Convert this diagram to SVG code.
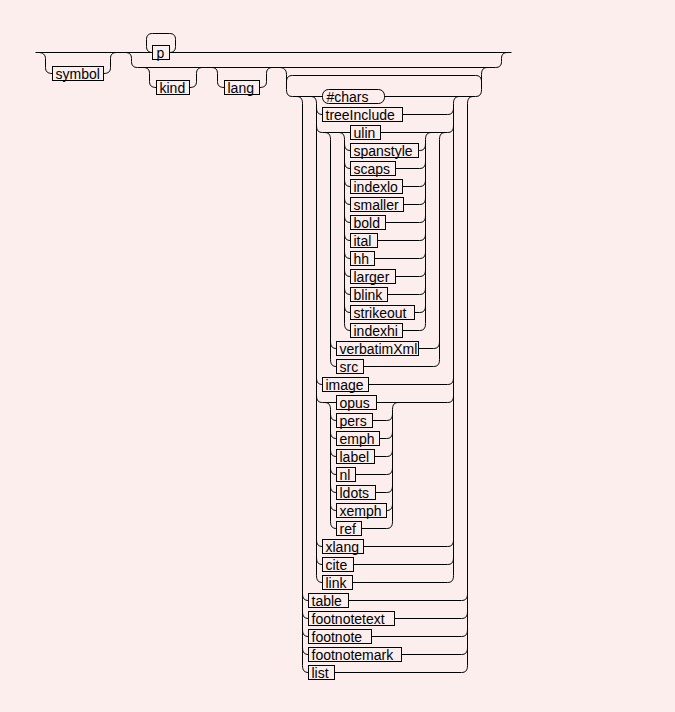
<svg xmlns="http://www.w3.org/2000/svg" width="675" height="712" viewBox="0 0 675 712">
<style>
.c{fill:none;stroke:#000;stroke-width:1}
.b{fill:#fdeeee;stroke:#000;stroke-width:1}
.t{font-family:"Liberation Sans",Arial,sans-serif;font-size:14px;fill:#000}
</style>
<rect x="0" y="0" width="675" height="712" fill="#fdeeee"/>
<g transform="translate(0.5,0.5)">
<g id="connectors" class="c">
<path d="M35,52 H511"/>
<path d="M38,52 C42,52 45,54 45,58 V67 C45,71 47,73 52,73"/>
<path d="M103,73 C108,73 110,71 110,67 V58 C110,54 112,52 116,52"/>
<path d="M169,52 C173,52 175,50 175,46 V39 C175,35 173,33 169,33 H152 C148,33 146,35 146,39 V46 C146,50 148,52 152,52"/>
<path d="M125,52 C129,52 131,54 131,58 V61 C131,65 133,67 137,67 H495 C499,67 501,65 501,61 V58 C501,54 503,52 507,52"/>
<path d="M143,67 C147,67 149,69 149,73 V81 C149,85 151,87 156,87"/>
<path d="M189,87 C194,87 196,85 196,81 V73 C196,69 198,67 202,67"/>
<path d="M211,67 C215,67 217,69 217,73 V81 C217,85 219,87 224,87"/>
<path d="M259,87 C264,87 266,85 266,81 V73 C266,69 268,67 272,67"/>
<path d="M279,67 C283,67 286,69 286,74 V89 C286,94 288,96 292,96"/>
<path d="M292,75 C288,75 286,77 286,81"/>
<path d="M292,75 H475"/>
<path d="M475,75 C479,75 481,77 481,81"/>
<path d="M475,96 C479,96 481,94 481,89 V74 C481,69 483,67 487,67"/>
<path d="M292,96 H475"/>
<path d="M322,114 H447 M322,132 H447 M322,384 H447 M322,402 H447 M322,546 H447 M322,564 H447 M322,582 H447"/>
<path d="M350,150 H419 M350,168 H419 M350,186 H419 M350,204 H419 M350,222 H419 M350,240 H419 M350,258 H419 M350,276 H419 M350,294 H419 M350,312 H419 M350,330 H419"/>
<path d="M336,348 H433 M336,366 H433"/>
<path d="M336,420 H386 M336,438 H386 M336,456 H386 M336,474 H386 M336,492 H386 M336,510 H386 M336,528 H386"/>
<path d="M308,600 H461 M308,618 H461 M308,636 H461 M308,654 H461 M308,672 H461"/>
<path d="M296,96 C300,96 302,98 302,103 V665"/>
<path d="M302,593 C302,598 304,600 308,600 M302,611 C302,616 304,618 308,618 M302,629 C302,634 304,636 308,636 M302,647 C302,652 304,654 308,654 M302,665 C302,670 304,672 308,672"/>
<path d="M473,96 C469,96 467,98 467,103 V665"/>
<path d="M461,600 C465,600 467,598 467,593 M461,618 C465,618 467,616 467,611 M461,636 C465,636 467,634 467,629 M461,654 C465,654 467,652 467,647 M461,672 C465,672 467,670 467,665"/>
<path d="M310,96 C314,96 316,98 316,103 V575"/>
<path d="M316,107 C316,112 318,114 322,114 M316,125 C316,130 318,132 322,132 M316,377 C316,382 318,384 322,384 M316,395 C316,400 318,402 322,402 M316,539 C316,544 318,546 322,546 M316,557 C316,562 318,564 322,564 M316,575 C316,580 318,582 322,582"/>
<path d="M459,96 C455,96 453,98 453,103 V575"/>
<path d="M447,114 C451,114 453,112 453,107 M447,132 C451,132 453,130 453,125 M447,384 C451,384 453,382 453,377 M447,402 C451,402 453,400 453,395 M447,546 C451,546 453,544 453,539 M447,564 C451,564 453,562 453,557 M447,582 C451,582 453,580 453,575"/>
<path d="M324,132 C328,132 330,134 330,139 V359"/>
<path d="M330,341 C330,346 332,348 336,348 M330,359 C330,364 332,366 336,366"/>
<path d="M445,132 C441,132 439,134 439,139 V359"/>
<path d="M433,348 C437,348 439,346 439,341 M433,366 C437,366 439,364 439,359"/>
<path d="M338,132 C342,132 344,134 344,139 V323"/>
<path d="M344,143 C344,148 346,150 350,150 M344,161 C344,166 346,168 350,168 M344,179 C344,184 346,186 350,186 M344,197 C344,202 346,204 350,204 M344,215 C344,220 346,222 350,222 M344,233 C344,238 346,240 350,240 M344,251 C344,256 346,258 350,258 M344,269 C344,274 346,276 350,276 M344,287 C344,292 346,294 350,294 M344,305 C344,310 346,312 350,312 M344,323 C344,328 346,330 350,330"/>
<path d="M431,132 C427,132 425,134 425,139 V323"/>
<path d="M419,150 C423,150 425,148 425,143 M419,168 C423,168 425,166 425,161 M419,186 C423,186 425,184 425,179 M419,204 C423,204 425,202 425,197 M419,222 C423,222 425,220 425,215 M419,240 C423,240 425,238 425,233 M419,258 C423,258 425,256 425,251 M419,276 C423,276 425,274 425,269 M419,294 C423,294 425,292 425,287 M419,312 C423,312 425,310 425,305 M419,330 C423,330 425,328 425,323"/>
<path d="M324,402 C328,402 330,404 330,409 V521"/>
<path d="M330,413 C330,418 332,420 336,420 M330,431 C330,436 332,438 336,438 M330,449 C330,454 332,456 336,456 M330,467 C330,472 332,474 336,474 M330,485 C330,490 332,492 336,492 M330,503 C330,508 332,510 336,510 M330,521 C330,526 332,528 336,528"/>
<path d="M398,402 C394,402 392,404 392,409 V521"/>
<path d="M386,420 C390,420 392,418 392,413 M386,438 C390,438 392,436 392,431 M386,456 C390,456 392,454 392,449 M386,474 C390,474 392,472 392,467 M386,492 C390,492 392,490 392,485 M386,510 C390,510 392,508 392,503 M386,528 C390,528 392,526 392,521"/>
</g>
<g id="n-symbol"><rect class="b" x="52" y="66" width="51" height="14"/><text class="t" x="55" y="78">symbol</text></g>
<g id="n-p"><rect class="b" x="152" y="45" width="17" height="14"/><text class="t" x="156" y="57">p</text></g>
<g id="n-kind"><rect class="b" x="156" y="80" width="33" height="14"/><text class="t" x="159" y="92">kind</text></g>
<g id="n-lang"><rect class="b" x="224" y="80" width="35" height="14"/><text class="t" x="227" y="92">lang</text></g>
<g id="n-chars"><rect class="b" x="322" y="89" width="62" height="14" rx="6"/><text class="t" x="326" y="101">#chars</text></g>
<g id="n-treeInclude"><rect class="b" x="322" y="107" width="80" height="14"/><text class="t" x="325" y="119">treeInclude</text></g>
<g id="n-ulin"><rect class="b" x="350" y="125" width="30" height="14"/><text class="t" x="353" y="137">ulin</text></g>
<g id="n-spanstyle"><rect class="b" x="350" y="143" width="68" height="14"/><text class="t" x="353" y="155">spanstyle</text></g>
<g id="n-scaps"><rect class="b" x="350" y="161" width="45" height="14"/><text class="t" x="353" y="173">scaps</text></g>
<g id="n-indexlo"><rect class="b" x="350" y="179" width="52" height="14"/><text class="t" x="353" y="191">indexlo</text></g>
<g id="n-smaller"><rect class="b" x="350" y="197" width="53" height="14"/><text class="t" x="353" y="209">smaller</text></g>
<g id="n-bold"><rect class="b" x="350" y="215" width="35" height="14"/><text class="t" x="353" y="227">bold</text></g>
<g id="n-ital"><rect class="b" x="350" y="233" width="27" height="14"/><text class="t" x="353" y="245">ital</text></g>
<g id="n-hh"><rect class="b" x="350" y="251" width="24" height="14"/><text class="t" x="353" y="263">hh</text></g>
<g id="n-larger"><rect class="b" x="350" y="269" width="45" height="14"/><text class="t" x="353" y="281">larger</text></g>
<g id="n-blink"><rect class="b" x="350" y="287" width="37" height="14"/><text class="t" x="353" y="299">blink</text></g>
<g id="n-strikeout"><rect class="b" x="350" y="305" width="64" height="14"/><text class="t" x="353" y="317">strikeout</text></g>
<g id="n-indexhi"><rect class="b" x="350" y="323" width="52" height="14"/><text class="t" x="353" y="335">indexhi</text></g>
<g id="n-verbatimXml"><rect class="b" x="336" y="341" width="82" height="14"/><text class="t" x="339" y="353">verbatimXml</text></g>
<g id="n-src"><rect class="b" x="336" y="359" width="27" height="14"/><text class="t" x="339" y="371">src</text></g>
<g id="n-image"><rect class="b" x="322" y="377" width="46" height="14"/><text class="t" x="325" y="389">image</text></g>
<g id="n-opus"><rect class="b" x="336" y="395" width="40" height="14"/><text class="t" x="339" y="407">opus</text></g>
<g id="n-pers"><rect class="b" x="336" y="413" width="36" height="14"/><text class="t" x="339" y="425">pers</text></g>
<g id="n-emph"><rect class="b" x="336" y="431" width="43" height="14"/><text class="t" x="339" y="443">emph</text></g>
<g id="n-label"><rect class="b" x="336" y="449" width="38" height="14"/><text class="t" x="339" y="461">label</text></g>
<g id="n-nl"><rect class="b" x="336" y="467" width="19" height="14"/><text class="t" x="339" y="479">nl</text></g>
<g id="n-ldots"><rect class="b" x="336" y="485" width="39" height="14"/><text class="t" x="339" y="497">ldots</text></g>
<g id="n-xemph"><rect class="b" x="336" y="503" width="50" height="14"/><text class="t" x="339" y="515">xemph</text></g>
<g id="n-ref"><rect class="b" x="336" y="521" width="25" height="14"/><text class="t" x="339" y="533">ref</text></g>
<g id="n-xlang"><rect class="b" x="322" y="539" width="41" height="14"/><text class="t" x="325" y="551">xlang</text></g>
<g id="n-cite"><rect class="b" x="322" y="557" width="31" height="14"/><text class="t" x="325" y="569">cite</text></g>
<g id="n-link"><rect class="b" x="322" y="575" width="30" height="14"/><text class="t" x="325" y="587">link</text></g>
<g id="n-table"><rect class="b" x="308" y="593" width="40" height="14"/><text class="t" x="311" y="605">table</text></g>
<g id="n-footnotetext"><rect class="b" x="308" y="611" width="86" height="14"/><text class="t" x="311" y="623">footnotetext</text></g>
<g id="n-footnote"><rect class="b" x="308" y="629" width="63" height="14"/><text class="t" x="311" y="641">footnote</text></g>
<g id="n-footnotemark"><rect class="b" x="308" y="647" width="93" height="14"/><text class="t" x="311" y="659">footnotemark</text></g>
<g id="n-list"><rect class="b" x="308" y="665" width="26" height="14"/><text class="t" x="311" y="677">list</text></g>
</g>
</svg>
